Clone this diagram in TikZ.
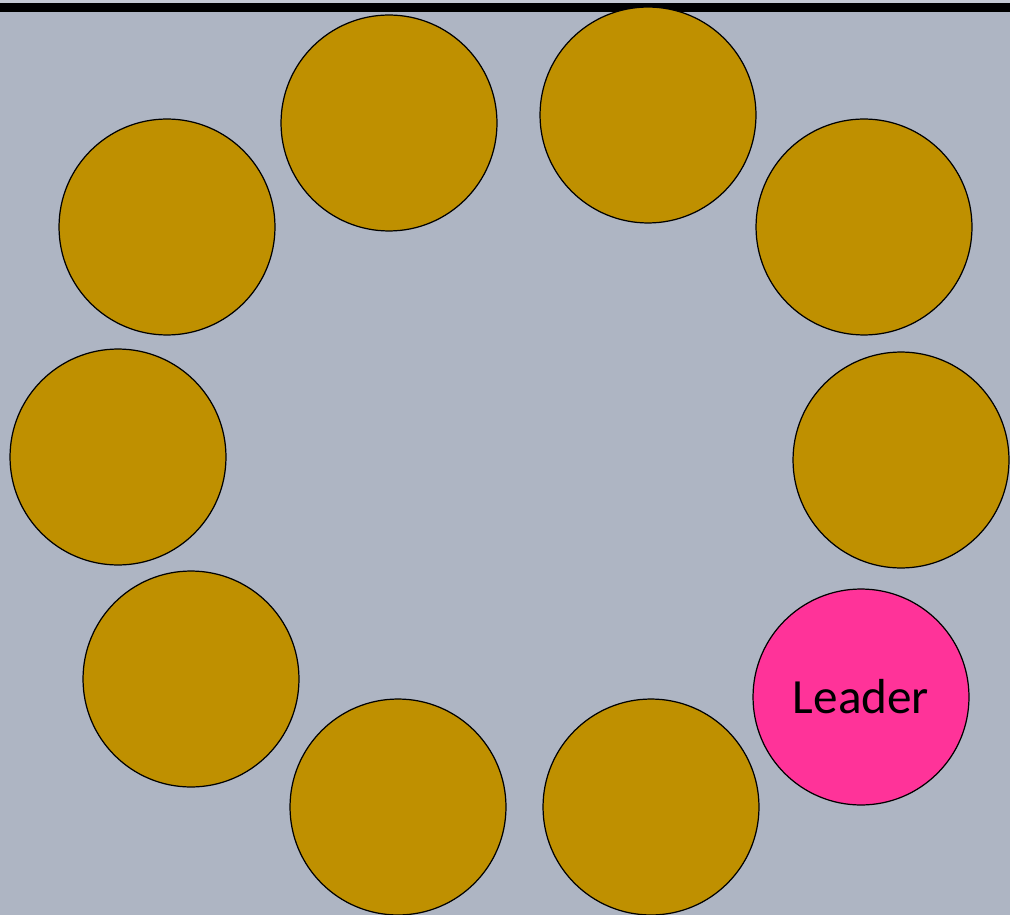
\documentclass[tikz,border=0pt]{standalone}
\usepackage{fontspec}
\setmainfont{Carlito}
\usetikzlibrary{positioning}
\definecolor{cBg}{HTML}{AEB5C3}
\definecolor{cTop}{HTML}{C4C9D3}
\definecolor{cMem}{HTML}{BF9000}
\definecolor{cLead}{HTML}{FF3399}

\begin{document}
\begin{tikzpicture}[
  x=0.02cm,y=-0.02cm,
  member/.style={circle,draw=black,line width=0.7pt,fill=cMem,minimum size=4.32cm,inner sep=0pt},
  leader/.style={member,fill=cLead,font=\fontsize{28}{32}\selectfont},
]

% ---------- BACKGROUND ----------
\fill[cBg] (0,0) rectangle (1010,915);
\fill[cTop] (0,0) rectangle (1010,3);
\fill[black] (0,3) rectangle (1010,12);
\useasboundingbox (0,0) rectangle (1010,915);

% ---------- RING ----------
\node[member] (m1) at (167,227) {};
\node[member] (m2) at (389,123) {};
\node[member] (m3) at (648,115) {};
\node[member] (m4) at (864,227) {};
\node[member] (m5) at (901,460) {};
\node[leader] (lead) at (861,697) {Leader};
\node[member] (m7) at (651,807) {};
\node[member] (m8) at (398,807) {};
\node[member] (m9) at (191,679) {};
\node[member] (m10) at (118,457) {};

\end{tikzpicture}
\end{document}
